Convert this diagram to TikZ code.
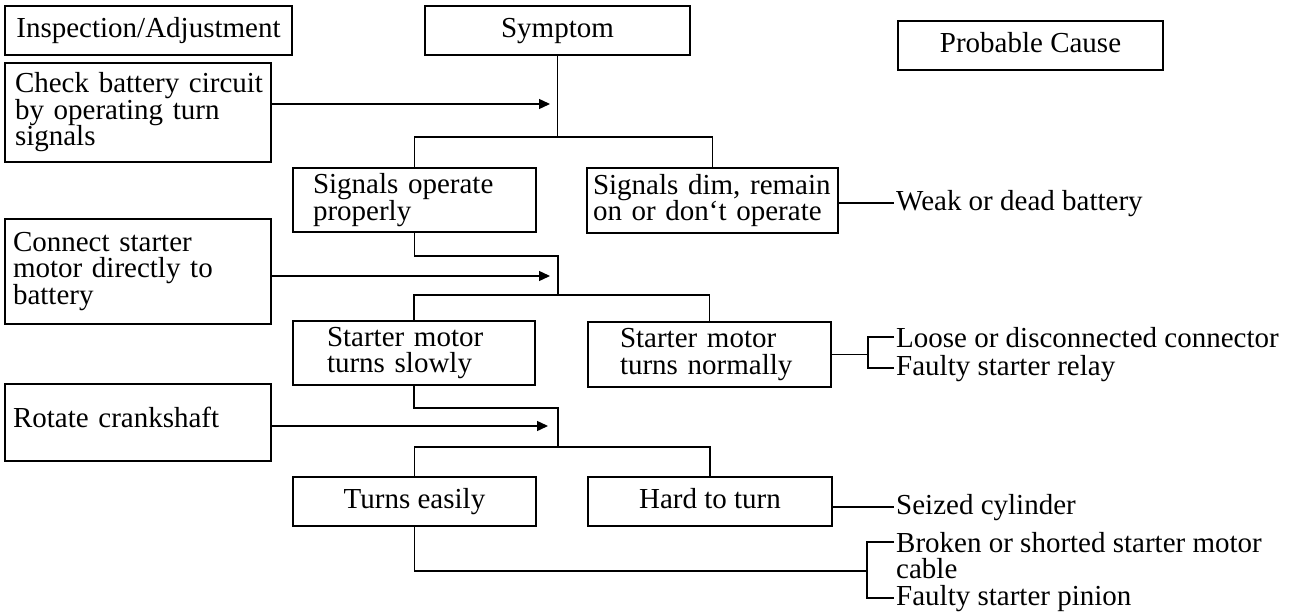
\documentclass[tikz,border=0pt]{standalone}
\usepackage{fontspec}
\setmainfont{Liberation Serif}
\usetikzlibrary{arrows.meta}
\newcommand\dfont{\fontsize{29}{26.5}\selectfont}
\begin{document}
\begin{tikzpicture}[x=1pt,y=-1pt,
  box/.style={draw, line width=1.5pt, inner ysep=0pt, font=\dfont},
  one/.style={box, text height=20pt, text depth=6.5pt},
  cause/.style={inner xsep=2pt, inner ysep=0pt, anchor=base west, font=\dfont},
  conn/.style={line width=1.4pt},
  arr/.style={conn, -{Triangle[length=11pt,width=10pt]}}]
\fill[white] (0,0) rectangle (1298,615);
\useasboundingbox (0,0) rectangle (1298,615);

% header boxes
\node[one, minimum width=287pt, minimum height=49pt] (insp) at (148.5,30.5) {Inspection/Adjustment};
\node[one, minimum width=265pt, minimum height=49pt] (symp) at (557.5,30.5) {Symptom};
\node[one, minimum width=265pt, minimum height=49pt] (prob) at (1030.5,45.5) {Probable Cause};

% inspection boxes
\node[box, text width=246pt, inner xsep=10pt, minimum height=99pt, align=left] (check) at (138,112.5) {\mbox{Check battery circuit}\\\mbox{by operating turn}\\\mbox{signals}};
\node[box, text width=250pt, inner xsep=8pt, minimum height=105pt, align=left] (cnct) at (138,271.5) {\mbox{Connect starter}\\\mbox{motor directly to}\\\mbox{battery}};
\node[box, text width=250pt, inner xsep=8pt, minimum height=77pt, align=left, text height=20pt, text depth=11pt] (rot) at (138,422.5) {\mbox{Rotate crankshaft}};

% symptom boxes
\node[box, text width=203pt, inner xsep=20pt, minimum height=64pt, align=left] (sop) at (414.5,200) {\mbox{Signals operate}\\\mbox{properly}};
\node[box, text width=239pt, inner xsep=6pt, minimum height=65pt, align=left] (sdim) at (712.5,200.5) {\mbox{Signals dim, remain}\\\mbox{on or don‘t operate}};
\node[box, text width=174pt, inner xsep=34pt, minimum height=64pt, align=left] (sslow) at (414,353) {\mbox{Starter motor}\\\mbox{turns slowly}};
\node[box, text width=179pt, inner xsep=32pt, minimum height=65pt, align=left] (snorm) at (709.5,354.5) {\mbox{Starter motor}\\\mbox{turns normally}};
\node[one, minimum width=243pt, minimum height=49pt] (teasy) at (414.5,501.5) {Turns easily};
\node[one, minimum width=244pt, minimum height=49pt] (hard) at (710,501.5) {Hard to turn};

% causes
\node[cause] (weak) at (894,210) {Weak or dead battery};
\node[cause] (loose) at (894,347) {Loose or disconnected connector};
\node[cause] (relay) at (894,375) {Faulty starter relay};
\node[cause] (seized) at (894,514) {Seized cylinder};
\node[cause, anchor=north west, align=left] (broken) at (894,532) {Broken or shorted starter motor\\cable};
\node[cause] (pinion) at (894,605) {Faulty starter pinion};

% helper coordinates
\coordinate (t1) at (550,104);
\coordinate (t2) at (550,276);
\coordinate (t3) at (548,426);
\coordinate (j1) at (558,137);
\coordinate (k2) at (558,256);
\coordinate (j2) at (558,295);
\coordinate (k3) at (558,408);
\coordinate (j3) at (558,447);
\coordinate (b1) at (868,354);
\coordinate (b2) at (867,571);
\coordinate (bt) at ([yshift=-10pt]broken.north west);

% arrows from inspections
\draw[arr] (check.east |- t1) -- (t1);
\draw[arr] (cnct.east |- t2) -- (t2);
\draw[arr] (rot.east |- t3) -- (t3);

% tree
\draw[conn] (symp.south) -- (symp.south |- j1);
\draw[conn] (sop.north) |- (sdim.north |- j1) -- (sdim.north);
\draw[conn] (sop.south) |- (k2) -- (j2);
\draw[conn] (sslow.north) |- (snorm.north |- j2) -- (snorm.north);
\draw[conn] (sslow.south) |- (k3) -- (j3);
\draw[conn] (teasy.north) |- (hard.north |- j3) -- (hard.north);

% causes connectors
\draw[conn] (sdim.east |- weak.west) -- (weak.west);
\draw[conn] (snorm.east) -- (snorm.east -| b1);
\draw[conn] (loose.west) -| (b1) |- (relay.west);
\draw[conn] (hard.east |- seized.west) -- (seized.west);
\draw[conn] (teasy.south) |- (b2);
\draw[conn] (bt) -| (b2) |- (pinion.west);
\end{tikzpicture}
\end{document}
